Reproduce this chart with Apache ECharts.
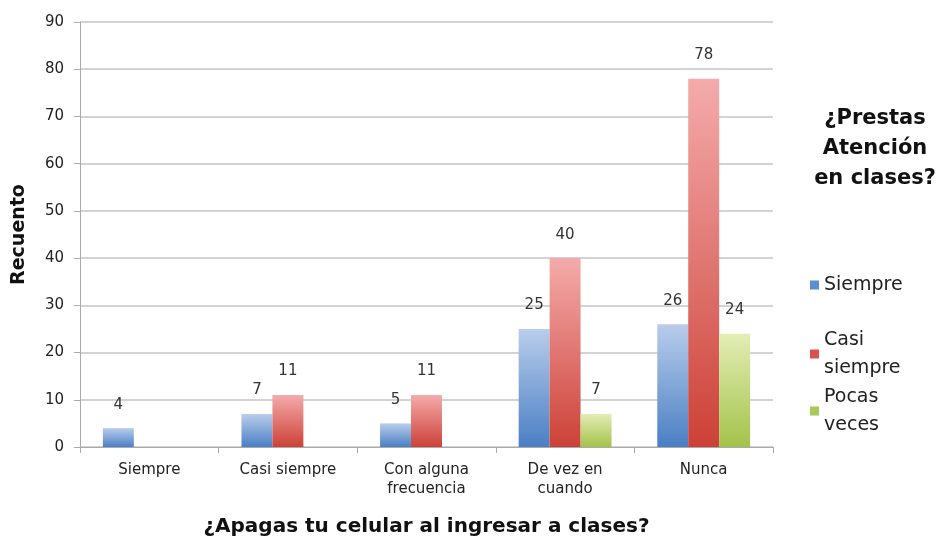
<!DOCTYPE html>
<html>
<head>
<meta charset="utf-8">
<script src="https://cdn.jsdelivr.net/npm/echarts@6/dist/echarts.min.js"></script>
<style>
  html, body { margin: 0; padding: 0; background: #fff; }
  #chart { width: 940px; height: 541px; }
</style>
</head>
<body>
<div id="chart"></div>
<script>
// datos del gráfico
const categories = ['Siempre', 'Casi siempre', 'Con alguna frecuencia', 'De vez en cuando', 'Nunca'];
const tickLabels = ['Siempre', 'Casi siempre', 'Con alguna\nfrecuencia', 'De vez en\ncuando', 'Nunca'];
const siempre = [4, 7, 5, 25, 26];
const casiSiempre = [null, 11, 11, 40, 78];
const pocasVeces = [null, null, null, 7, 24];
const seriesNames = ['Siempre', 'Casi siempre', 'Pocas veces'];
const legendLabels = ['Siempre', 'Casi\nsiempre', 'Pocas\nveces'];

const font = 'DejaVu Sans';

const grad = (top, bottom) => new echarts.graphic.LinearGradient(0, 0, 0, 1, [
  { offset: 0, color: top },
  { offset: 1, color: bottom }
]);

const colors = [
  grad('#b9cdeb', '#4a7fc4'),
  grad('#f4abab', '#cc4137'),
  grad('#e3edb5', '#a4c24a')
];
const legendColors = ['#5b8dd0', '#d9534f', '#a9c75a'];

const makeSeries = (name, data, i) => ({
  name,
  type: 'bar',
  data,
  barGap: '0%',
  barCategoryGap: '33%',
  itemStyle: { color: colors[i] },
  label: {
    show: true,
    position: 'top',
    distance: 16,
    color: '#333',
    fontFamily: font,
    fontSize: 15
  }
});

// leyendas separadas para imitar el espaciado de Excel
const legendTops = [266, 321, 378];
const legends = seriesNames.map((n, i) => ({
  orient: 'vertical',
  left: 805,
  top: legendTops[i],
  itemWidth: 9,
  itemHeight: 9,
  icon: 'rect',
  data: [{ name: n, itemStyle: { color: legendColors[i] } }],
  formatter: name => legendLabels[seriesNames.indexOf(name)],
  textStyle: {
    fontFamily: font,
    fontSize: 19,
    lineHeight: 28,
    color: '#222'
  }
}));

const chart = echarts.init(document.getElementById('chart'));
chart.setOption({
  animation: false,
  color: legendColors,
  title: {
    text: '¿Prestas\nAtención\nen clases?',
    left: 870,
    top: 99,
    textAlign: 'center',
    textStyle: {
      fontFamily: font,
      fontWeight: 'bold',
      fontSize: 21,
      lineHeight: 30,
      color: '#111'
    }
  },
  legend: legends,
  grid: { left: 80, right: 167, top: 22, bottom: 94, containLabel: false, outerBoundsMode: 'none' },
  xAxis: {
    type: 'category',
    data: categories,
    name: '¿Apagas tu celular al ingresar a clases?',
    nameLocation: 'middle',
    nameGap: 70,
    nameTextStyle: { fontFamily: font, fontWeight: 'bold', fontSize: 20, color: '#111' },
    axisLine: { lineStyle: { color: '#aaa' } },
    axisTick: { show: true, length: 6, lineStyle: { color: '#aaa' } },
    axisLabel: {
      formatter: (v, idx) => tickLabels[idx],
      margin: 14,
      fontFamily: font,
      fontSize: 15,
      lineHeight: 19,
      color: '#222'
    }
  },
  yAxis: {
    type: 'value',
    min: 0,
    max: 90,
    interval: 10,
    name: 'Recuento',
    nameLocation: 'middle',
    nameGap: 51,
    nameTextStyle: { fontFamily: font, fontWeight: 'bold', fontSize: 19, color: '#111' },
    axisLine: { show: true, lineStyle: { color: '#aaa' } },
    axisTick: { show: true, length: 6, lineStyle: { color: '#aaa' } },
    axisLabel: { margin: 16, fontFamily: font, fontSize: 15, color: '#222' },
    splitLine: { lineStyle: { color: '#c4c4c4', width: 1.5 } }
  },
  series: [
    makeSeries(seriesNames[0], siempre, 0),
    makeSeries(seriesNames[1], casiSiempre, 1),
    makeSeries(seriesNames[2], pocasVeces, 2)
  ]
});
</script>
</body>
</html>
